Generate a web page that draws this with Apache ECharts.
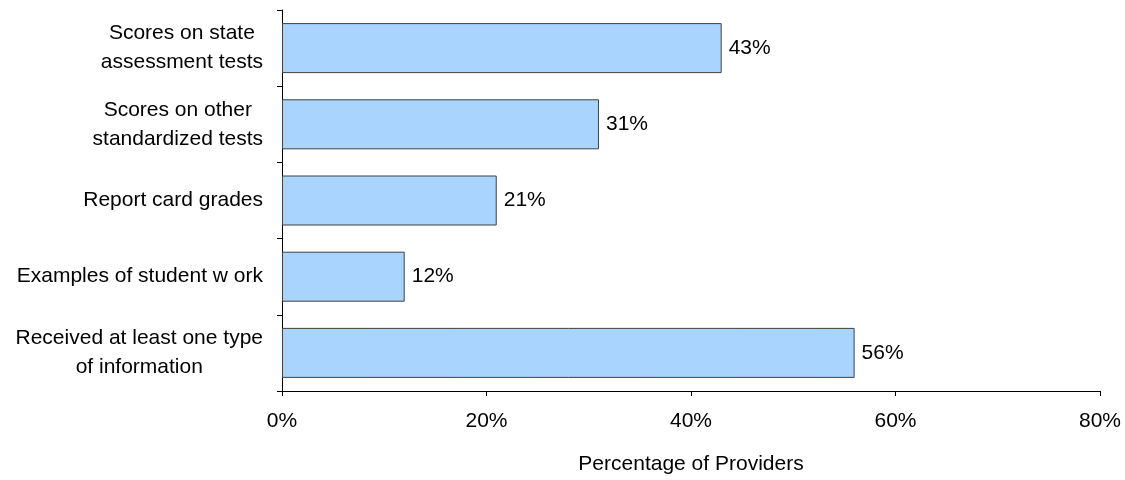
<!DOCTYPE html>
<html>
<head>
<meta charset="utf-8">
<script src="https://cdn.jsdelivr.net/npm/echarts@6/dist/echarts.min.js"></script>
<style>
  html, body { margin: 0; padding: 0; background: #fff; }
  #chart { width: 1125px; height: 480px; }
</style>
</head>
<body>
<div id="chart"></div>
<script>
// categories top to bottom
var categories = [
  'Scores on state\nassessment tests',
  'Scores on other\nstandardized tests',
  'Report card grades',
  'Examples of student w ork',
  'Received at least one type\nof information'
];
var values = [43, 31, 21, 12, 56];
var xTicks = [0, 20, 40, 60, 80];

var font = 'Liberation Sans, Arial, sans-serif';
var fs = 21;
var myChart = echarts.init(document.getElementById('chart'));

myChart.setOption({
  animation: false,
  backgroundColor: '#fff',
  grid: { left: 282, right: 25, top: 10, bottom: 88 },
  xAxis: {
    type: 'value',
    min: xTicks[0],
    max: xTicks[xTicks.length - 1],
    interval: 20,
    name: 'Percentage of Providers',
    nameLocation: 'middle',
    nameGap: 63,
    nameTextStyle: { fontFamily: font, fontSize: fs, color: '#000', verticalAlign: 'top' },
    axisLine: { show: true, lineStyle: { color: '#000', width: 1 } },
    axisTick: { show: true, length: 5, lineStyle: { color: '#000' } },
    splitLine: { show: false },
    axisLabel: {
      margin: 20,
      fontFamily: font,
      fontSize: fs,
      color: '#000',
      formatter: function (v) { return v + '%'; }
    }
  },
  yAxis: {
    type: 'category',
    inverse: true,
    data: categories,
    axisLine: { show: true, lineStyle: { color: '#000', width: 1 } },
    axisTick: { show: true, length: 5, lineStyle: { color: '#000' } },
    axisLabel: {
      margin: 19,
      fontFamily: font,
      fontSize: fs,
      color: '#000',
      lineHeight: 29,
      formatter: function (v) {
        return v.split('\n').map(function (s) { return '{c|' + s + '}'; }).join('\n');
      },
      rich: {
        c: { align: 'center', fontFamily: font, fontSize: fs, color: '#000', lineHeight: 29 }
      }
    }
  },
  series: [{
    type: 'bar',
    data: values,
    barWidth: 50,
    itemStyle: { color: '#A9D4FE', borderColor: '#404040', borderWidth: 1 },
    label: {
      show: true,
      position: 'right',
      distance: 7,
      fontFamily: font,
      fontSize: fs,
      color: '#000',
      formatter: function (p) { return p.value + '%'; }
    }
  }]
});
</script>
</body>
</html>
